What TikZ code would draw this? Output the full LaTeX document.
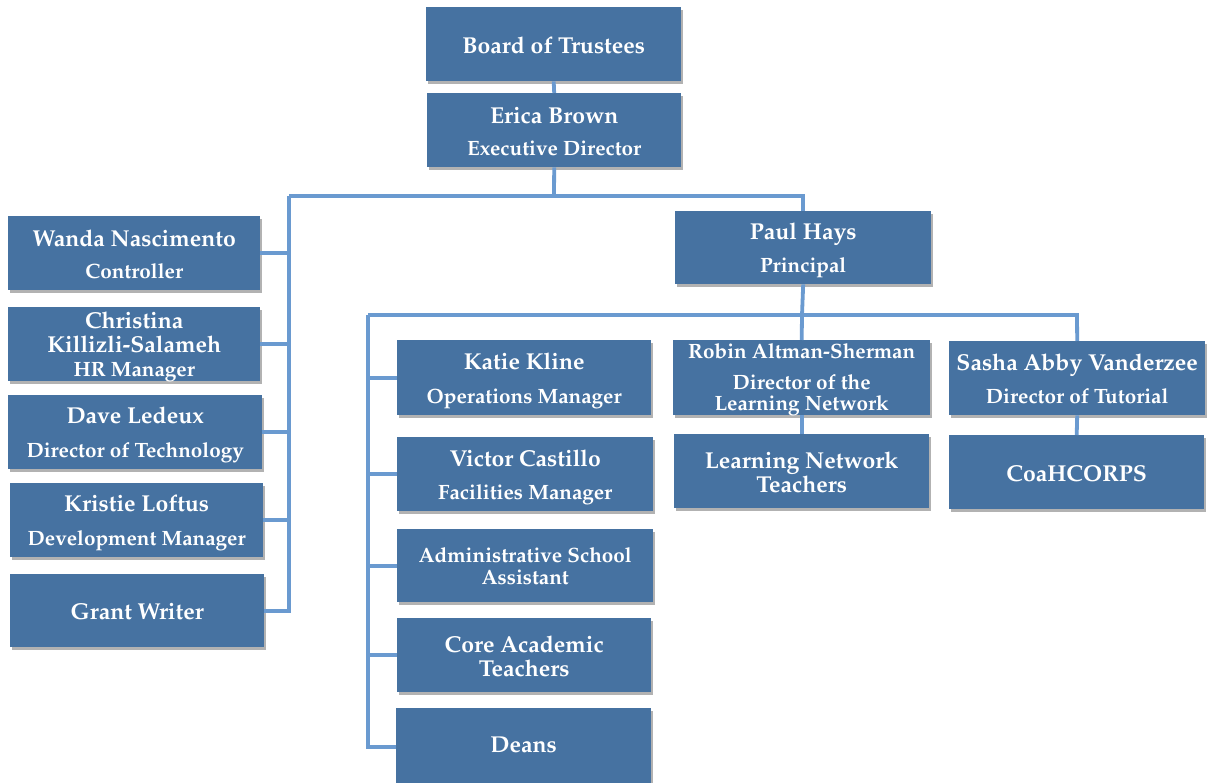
\documentclass[tikz,border=0pt]{standalone}
\usepackage[T1]{fontenc}
\renewcommand\rmdefault{ppl}
\usetikzlibrary{shadows,calc}
\definecolor{boxblue}{HTML}{4672A1}
\definecolor{lineblue}{HTML}{6A9AD0}
\newcommand{\nm}{\fontsize{23}{24}\selectfont}
\newcommand{\ttl}{\fontsize{20.7}{24}\selectfont}
\tikzset{
  box/.style={draw=none, fill=boxblue, anchor=north west, inner sep=0pt,
    drop shadow={opacity=0.3, shadow xshift=2pt, shadow yshift=-3pt, fill=black}},
  lbl/.style={text=white, font=\bfseries\fontsize{23}{24}\selectfont, align=center, inner sep=0pt},
  conn/.style={draw=lineblue, line width=3.8pt, line join=miter}
}
\newcommand{\bx}[7]{% name, x1,y1,x2,y2, dy, text
  \node[box, minimum width=#4-#2, minimum height=#5-#3] (#1) at (#2,#3) {};
  \node[lbl] (#1t) at ($(#1)+(0,#6)$) {#7};
}
\begin{document}
\begin{tikzpicture}[x=1pt,y=-1pt]
\useasboundingbox (0,0) rectangle (1208,783);
\coordinate (j1) at (554,196);
\coordinate (lbus) at (289,196);
\coordinate (j2) at (802,315);
\coordinate (rbus) at (368,315);
\coordinate (sbus) at (1077,315);

\bx{board}{426}{7}{681}{81}{1}{\nm Board of Trustees}
\bx{erica}{427}{93}{681}{167}{1}{\nm Erica Brown\\[8pt]\ttl Executive Director}
\bx{wanda}{8}{216}{260}{290}{1}{\nm Wanda Nascimento\\[8pt]\ttl Controller}
\bx{christina}{8}{307}{260}{381}{3}{\nm Christina\\\nm Killizli-Salameh\\\ttl HR Manager}
\bx{dave}{8}{395}{262}{469}{3}{\nm Dave Ledeux\\[10pt]\ttl Director of Technology}
\bx{kristie}{10}{483}{263}{557}{3}{\nm Kristie Loftus\\[10pt]\ttl Development Manager}
\bx{grant}{10}{574}{264}{647}{1}{\nm Grant Writer}
\bx{paul}{675}{211}{931}{284}{3}{\nm Paul Hays\\[9pt]\ttl Principal}
\bx{katie}{397}{340}{651}{415}{3}{\nm Katie Kline\\[10pt]\ttl Operations Manager}
\bx{victor}{397}{437}{653}{511}{3}{\nm Victor Castillo\\[9pt]\ttl Facilities Manager}
\bx{admin}{397}{529}{653}{602}{0}{\ttl Administrative School\\[-2pt]\ttl Assistant}
\bx{core}{397}{618}{651}{692}{1}{\nm Core Academic\\\nm Teachers}
\bx{deans}{396}{708}{651}{786}{-2}{\nm Deans}
\bx{robin}{673}{340}{930}{415}{2}{\ttl Robin Altman-Sherman\\[7pt]\ttl Director of the\\[-3pt]\ttl Learning Network}
\bx{lnt}{674}{434}{929}{508}{1}{\nm Learning Network\\\nm Teachers}
\bx{sasha}{949}{341}{1205}{415}{1}{\nm Sasha Abby Vanderzee\\[9pt]\ttl Director of Tutorial}
\bx{coah}{949}{435}{1204}{509}{1}{\nm CoaHCORPS}

\draw[conn] (board.south) -- (erica.north);
\draw[conn] (erica.south) -- (j1);
\draw[conn] (lbus) -| (paul.north);
\draw[conn] (lbus) |- (grant.east);
\foreach \n in {wanda,christina,dave,kristie} \draw[conn] (lbus|-\n.east) -- (\n.east);
\draw[conn] (paul.south) -- (j2) -- (robin.north);
\draw[conn] (rbus) -| (sbus) -- (sasha.north);
\draw[conn] (rbus) |- (deans.west);
\foreach \n in {katie,victor,admin,core} \draw[conn] (rbus|-\n.west) -- (\n.west);
\draw[conn] (robin.south) -- (lnt.north);
\draw[conn] (sasha.south) -- (coah.north);
\end{tikzpicture}
\end{document}
